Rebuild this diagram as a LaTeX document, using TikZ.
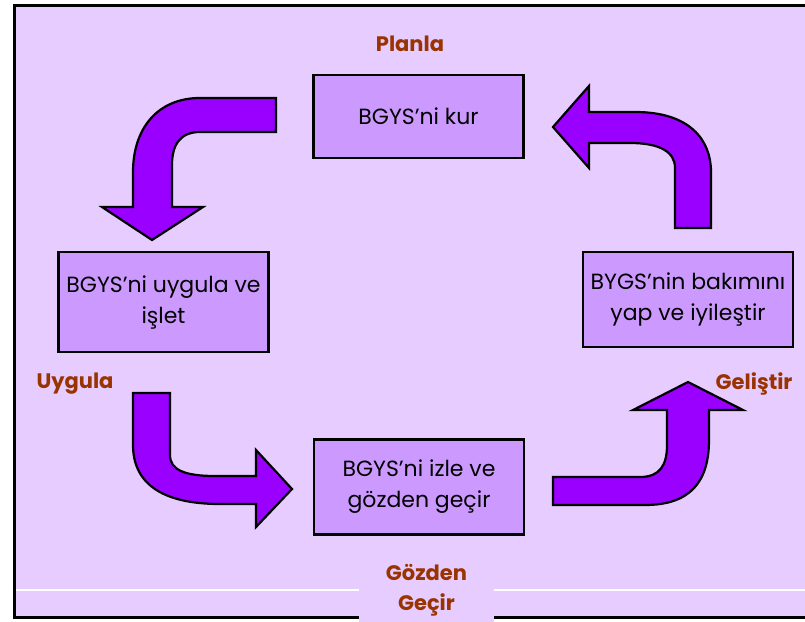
\documentclass[tikz,border=0pt]{standalone}
\usepackage{fontspec}
\setmainfont{Poppins}
\usepackage{tikz}
\usetikzlibrary{calc}

\definecolor{bgcol}{HTML}{E6CCFF}
\definecolor{boxcol}{HTML}{CC99FF}
\definecolor{arrowcol}{HTML}{9900FF}
\definecolor{labelcol}{HTML}{993300}

\begin{document}
\begin{tikzpicture}[x=1pt,y=-1pt]
     \tikzstyle{every node}=[font=\fontsize{22}{31}\selectfont]
     \tikzstyle{stepbox}=[draw=black, line width=2.2pt, fill=boxcol, align=center,
                          minimum width=210pt, inner sep=0pt]
     \tikzstyle{phase}=[text=labelcol, font=\fontsize{21}{30}\selectfont\bfseries, align=center]
     \tikzstyle{bentarrow}=[draw=black, line width=2.2pt, fill=arrowcol, line join=miter]
      \coordinate (TL) at (0,0);
      \coordinate (BR) at (805,621);
      \useasboundingbox (TL) rectangle (BR);
      \fill [white] (TL) rectangle (BR);
      \begin{scope}
      \clip (TL) rectangle (BR);
      \draw [line width=3pt, fill=bgcol] (14,5) rectangle (820,617);
      \draw [line width=1.2pt, white] (15.5,590) -- (810,590);
      \end{scope}
      % the four steps
      \node [stepbox, minimum height=83pt] (kur) at (418.5,116.5) {BGYS’ni kur};
      \node [stepbox, minimum height=100pt] (uygula) at (163.5,302) {BGYS’ni uygula ve\\işlet};
      \node [stepbox, minimum height=95pt] (izle) at (419,487) {BGYS’ni izle ve\\gözden geçir};
      \node [stepbox, minimum height=95pt] (bakim) at (688,299.5) {BYGS’nin bakımını\\yap ve iyileştir};
      % phase labels
      \node [phase] (planla) at (410,44) {Planla};
      \node [phase, anchor=west] (uygulaL) at (33,384) {Uygula};
      \node [phase, anchor=east] (gelistir) at (796,384) {Geliştir};
      \node [phase, fill=bgcol, minimum width=135pt, minimum height=70pt, inner sep=0pt]
            (gozden) at (426.5,590) {Gözden\\Geçir};
      % bent arrows
      \draw [bentarrow] (276,98) -- (200,98) .. controls (158,98) and (133,128) .. (133,172)
            -- (133,207) -- (102,207) -- (152,240) -- (203,207) -- (172,207) -- (172,165)
            .. controls (172,145) and (180,132) .. (200,132) -- (276,132) -- cycle;
      \draw [bentarrow] (553,127) -- (589,86) -- (589,112) -- (635,112)
            .. controls (690,112) and (711,140) .. (711,172) -- (711,228) -- (675,228)
            -- (675,168) .. controls (675,152) and (660,143) .. (630,143) -- (589,143)
            -- (589,168) -- cycle;
      \draw [bentarrow] (133,393) -- (170,393) -- (170,455) .. controls (170,470) and (185,476) .. (215,476)
            -- (256,476) -- (256,450) -- (292,489) -- (256,527) -- (256,504) -- (220,504)
            .. controls (160,504) and (133,482) .. (133,445) -- cycle;
      \draw [bentarrow] (553,477) -- (640,477) .. controls (660,477) and (667,465) .. (667,445)
            -- (667,410) -- (633,410) -- (688,382) -- (743,410) -- (709,410) -- (709,440)
            .. controls (709,482) and (690,505) .. (645,505) -- (553,505) -- cycle;
    \end{tikzpicture}
\end{document}
